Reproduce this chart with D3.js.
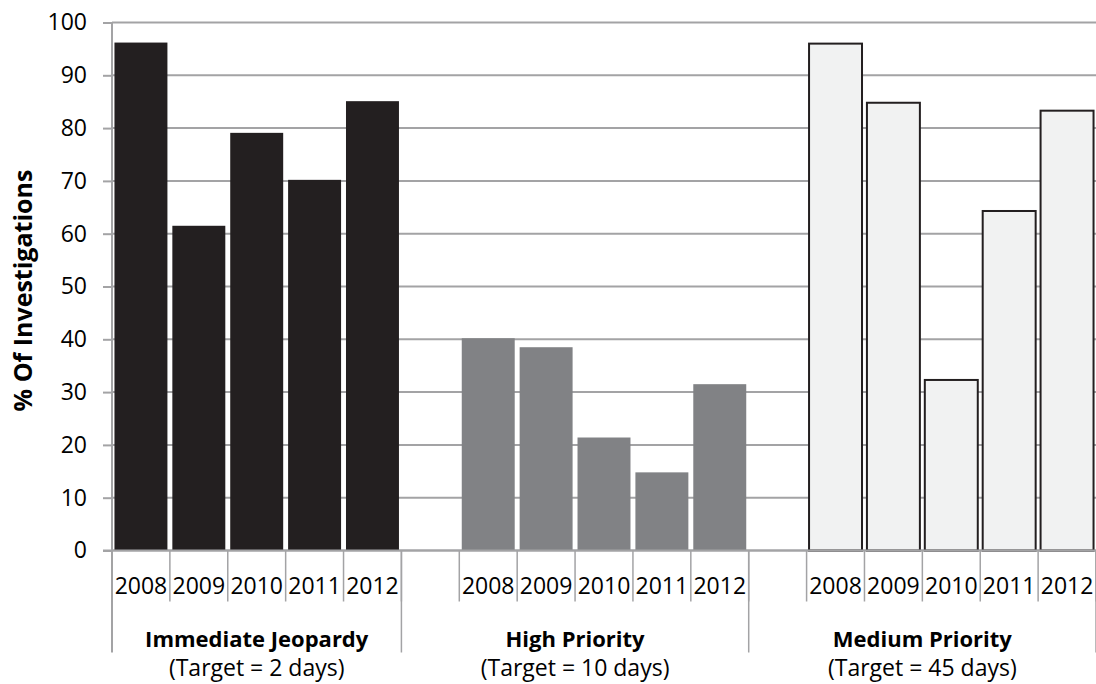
<!DOCTYPE html>
<html>
<head>
<meta charset="utf-8">
<script src="https://cdn.jsdelivr.net/npm/d3@7"></script>
<style>
  body { margin: 0; background: #fff; }
  svg { display: block; }
</style>
</head>
<body>
<svg width="1096" height="684"></svg>
<script>
const years = ['2008', '2009', '2010', '2011', '2012'];
const groups = ['Immediate Jeopardy', 'High Priority', 'Medium Priority'];
const targets = ['(Target = 2 days)', '(Target = 10 days)', '(Target = 45 days)'];
const immediateJeopardy = [96.2, 61.5, 79.1, 70.2, 85.1];
const highPriority = [40.2, 38.5, 21.4, 14.8, 31.5];
const mediumPriority = [96.0, 84.8, 32.3, 64.3, 83.3];
const yTicks = [0, 10, 20, 30, 40, 50, 60, 70, 80, 90, 100];
const yLabel = '% Of Investigations';

const seriesValues = [immediateJeopardy, highPriority, mediumPriority];
const fills = ['#231f20', '#818285', '#f1f2f2'];
const font = '"Open Sans", sans-serif';

const margin = { left: 112, right: 0, top: 22.5, bottom: 133.5 };
const svg = d3.select('svg');
const width = +svg.attr('width');
const height = +svg.attr('height');
const innerWidth = width - margin.left - margin.right;
const innerHeight = height - margin.top - margin.bottom;

// one slot per year, plus a blank slot in front of every group but the first
const slots = [];
groups.forEach((g, gi) => {
  if (gi > 0) slots.push({ key: gi + '-blank', group: gi, year: '' });
  years.forEach((yr, yi) => slots.push({ key: gi + '-' + yr, group: gi, year: yr, value: seriesValues[gi][yi] }));
});

const pad = 0.085;
const xScale = d3.scaleBand()
  .domain(slots.map(d => d.key))
  .range([0, innerWidth])
  .paddingInner(pad)
  .paddingOuter(pad / 2);
const yScale = d3.scaleLinear().domain([0, 100]).range([innerHeight, 0]);

const half = xScale.step() * pad / 2;
const left = d => xScale(d.key) - half;
const right = d => xScale(d.key) + xScale.bandwidth() + half;

const g = svg.append('g')
  .attr('transform', `translate(${margin.left},${margin.top})`);

// gridlines
g.append('g').selectAll('line').data(yTicks)
  .join('line')
    .attr('x1', 0).attr('x2', innerWidth)
    .attr('y1', d => yScale(d)).attr('y2', d => yScale(d))
    .attr('stroke', '#a3a3a5').attr('stroke-width', 2);

// y axis
const yAxis = d3.axisLeft(yScale)
  .tickValues(yTicks)
  .tickSize(9)
  .tickPadding(16);
const yAxisG = g.append('g').call(yAxis);
yAxisG.select('.domain').remove();
yAxisG.selectAll('.tick line').attr('stroke', '#a3a3a5').attr('stroke-width', 2);
yAxisG.selectAll('.tick text')
  .attr('font-size', 23)
  .attr('font-family', font)
  .attr('fill', '#000');

g.append('line')
  .attr('x1', 0).attr('x2', 0)
  .attr('y1', 0).attr('y2', innerHeight + 102)
  .attr('stroke', '#a3a3a5').attr('stroke-width', 2);

g.append('g')
  .attr('text-anchor', 'middle')
  .attr('font-family', font)
  .attr('fill', '#000')
  .append('text')
    .attr('transform', 'rotate(-90)')
    .attr('x', -268)
    .attr('y', -80)
    .attr('font-size', 25)
    .attr('font-weight', 'bold')
    .text(yLabel);

// bars
const bars = slots.filter(d => d.year !== '');
g.append('g').selectAll('rect').data(bars)
  .join('rect')
    .attr('x', d => xScale(d.key))
    .attr('y', d => yScale(d.value))
    .attr('width', xScale.bandwidth())
    .attr('height', d => innerHeight - yScale(d.value))
    .attr('fill', d => fills[d.group])
    .attr('stroke', d => d.group === 2 ? '#231f20' : 'none')
    .attr('stroke-width', 2);

// baseline
g.append('line')
  .attr('x1', -9).attr('x2', innerWidth)
  .attr('y1', innerHeight).attr('y2', innerHeight)
  .attr('stroke', '#a3a3a5').attr('stroke-width', 2);

// category axis: short ticks between slots, long ticks between groups
const axisG = g.append('g')
  .attr('transform', `translate(0,${innerHeight})`);
const slotEdges = slots.map(left).concat([right(slots[slots.length - 1])]);
const groupEdges = [0].concat(groups.map((gr, gi) => {
  const last = slots.filter(d => d.group === gi).pop();
  return right(last);
}));

axisG.selectAll('line.short').data(slotEdges)
  .join('line')
    .attr('class', 'short')
    .attr('x1', d => d).attr('x2', d => d)
    .attr('y1', 0).attr('y2', 51)
    .attr('stroke', '#a3a3a5').attr('stroke-width', 1.5);

axisG.selectAll('line.long').data(groupEdges.slice(1))
  .join('line')
    .attr('class', 'long')
    .attr('x1', d => d).attr('x2', d => d)
    .attr('y1', 0).attr('y2', 102)
    .attr('stroke', '#a3a3a5').attr('stroke-width', 1.5);

const labelG = axisG.append('g')
  .attr('text-anchor', 'middle')
  .attr('font-family', font)
  .attr('fill', '#000');

labelG.selectAll('text.year').data(bars)
  .join('text')
    .attr('class', 'year')
    .attr('x', d => xScale(d.key) + xScale.bandwidth() / 2)
    .attr('y', 43)
    .attr('font-size', 23)
    .text(d => d.year);

labelG.selectAll('text.group').data(groups)
  .join('text')
    .attr('class', 'group')
    .attr('x', (d, i) => (groupEdges[i] + groupEdges[i + 1]) / 2)
    .attr('y', 96)
    .attr('font-size', 22)
    .attr('font-weight', 'bold')
    .text(d => d);

labelG.selectAll('text.target').data(targets)
  .join('text')
    .attr('class', 'target')
    .attr('x', (d, i) => (groupEdges[i] + groupEdges[i + 1]) / 2)
    .attr('y', 125)
    .attr('font-size', 23)
    .text(d => d);
</script>
</body>
</html>
